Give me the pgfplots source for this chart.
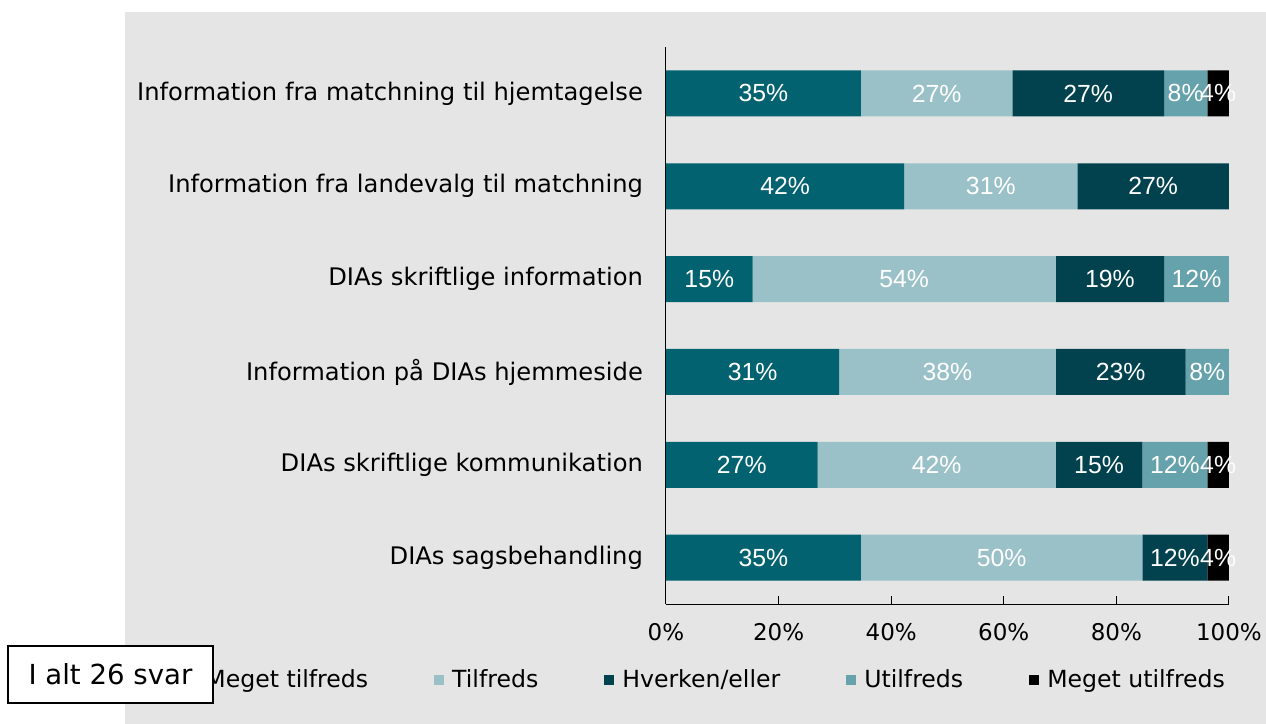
\documentclass[border=0pt]{standalone}
\usepackage{pgfplots}
\pgfplotsset{compat=1.18}
\usepackage{fontspec}
\setmainfont{DejaVu Sans}
\newfontfamily\arialfont{Liberation Sans}

\definecolor{cMT}{HTML}{02626F}
\definecolor{cT}{HTML}{9BC1C8}
\definecolor{cH}{HTML}{01424E}
\definecolor{cU}{HTML}{66A2AB}
\definecolor{cMU}{HTML}{000000}
\definecolor{bggray}{HTML}{E5E5E5}

\begin{document}
\begin{tikzpicture}
% grey panel behind the chart
\fill[bggray] (-270.5pt,-60pt) rectangle (300pt,296pt);
\begin{axis}[
  at={(0pt,0pt)}, anchor=south west,
  scale only axis, width=281.5pt, height=278.5pt,
  xbar stacked, bar width=23pt,
  xmin=0, xmax=100, ymin=-0.5, ymax=5.5, y dir=reverse,
  axis x line*=bottom, axis y line*=left,
  axis line style={black, line width=0.5pt},
  tick align=inside, major tick length=4pt,
  xtick={0,20,...,100},
  xticklabel={\pgfmathprintnumber{\tick}\%},
  /pgf/number format/assume math mode=true,
  xticklabel style={font=\fontsize{11.5}{12}\selectfont, yshift=-6pt},
  x tick style={black, line width=0.5pt},
  ytick={0,...,5},
  yticklabels={Information fra matchning til hjemtagelse,
               Information fra landevalg til matchning,
               DIAs skriftlige information,
               Information på DIAs hjemmeside,
               DIAs skriftlige kommunikation,
               DIAs sagsbehandling},
  yticklabel style={font=\fontsize{12.1}{12}\selectfont, xshift=-8pt},
  y tick style={draw=none},
  point meta=explicit,
  nodes near coords={\pgfmathfloatifflags{\pgfplotspointmeta}{0}{}{\pgfmathprintnumber[fixed,precision=0]{\pgfplotspointmeta}\%}},
  every node near coord/.append style={font=\arialfont\fontsize{12.4}{12}\selectfont, text=white},
  legend columns=5,
  legend style={at={(0.075,-0.136)}, anchor=center, draw=none, fill=none,
    font=\fontsize{11.8}{12}\selectfont,
    /tikz/every odd column/.append style={column sep=2pt},
    /tikz/every even column/.append style={column sep=31pt}},
  legend image code/.code={\fill[#1] (0pt,-2.5pt) rectangle (5pt,2.5pt);},
]
\addplot[fill=cMT, draw=none] coordinates {(34.62,0) [34.62] (42.31,1) [42.31] (15.38,2) [15.38] (30.77,3) [30.77] (26.92,4) [26.92] (34.61,5) [34.61]};
\addplot[fill=cT, draw=none] coordinates {(26.92,0) [26.92] (30.77,1) [30.77] (53.85,2) [53.85] (38.46,3) [38.46] (42.31,4) [42.31] (50.00,5) [50.00]};
\addplot[fill=cH, draw=none] coordinates {(26.92,0) [26.92] (26.92,1) [26.92] (19.23,2) [19.23] (23.08,3) [23.08] (15.38,4) [15.38] (11.54,5) [11.54]};
\addplot[fill=cU, draw=none] coordinates {(7.69,0) [7.69] (0,1) [0] (11.54,2) [11.54] (7.69,3) [7.69] (11.54,4) [11.54] (0,5) [0]};
\addplot[fill=cMU, draw=none] coordinates {(3.85,0) [3.85] (0,1) [0] (0,2) [0] (0,3) [0] (3.85,4) [3.85] (3.85,5) [3.85]};
\legend{Meget tilfreds, Tilfreds, Hverken/eller, Utilfreds, Meget utilfreds}
\end{axis}
\draw[fill=white, line width=0.8pt] (-329pt,-21pt) rectangle (-226.5pt,-49.5pt);
\node[font=\fontsize{13.8}{14}\selectfont] at (-277.75pt,-35.25pt) {I alt 26 svar};
\pgfresetboundingbox
\path[use as bounding box] (-333pt,-60pt) rectangle (300pt,302pt);
\end{tikzpicture}
\end{document}
